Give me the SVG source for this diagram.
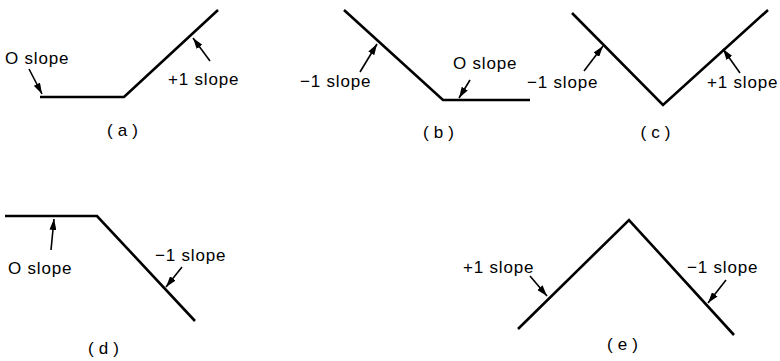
<svg xmlns="http://www.w3.org/2000/svg" width="780" height="361" viewBox="0 0 780 361">
<defs>
<marker id="ah" viewBox="0 0 11 7" refX="11" refY="3.5" markerWidth="11" markerHeight="7" markerUnits="userSpaceOnUse" orient="auto">
<path d="M0,0 L11,3.5 L0,7 Z" fill="#000"/>
</marker>
</defs>
<style>
.curve{fill:none;stroke:#000;stroke-width:2.6;stroke-linejoin:miter}
.arr{fill:none;stroke:#000;stroke-width:1.6;marker-end:url(#ah)}
text{font-family:"Liberation Sans",Arial,sans-serif;font-size:17px;letter-spacing:0.8px;fill:#000}
.cap{letter-spacing:5px;text-anchor:middle;font-size:17px}
</style>
<rect width="780" height="361" fill="#fff"/>
<g id="a">
<polyline class="curve" points="40,97 124,97 218,10"/>
<text x="5" y="64">O slope</text>
<text x="168" y="85">+1 slope</text>
<text class="cap" x="125" y="136">(a)</text>
</g>
<g id="b">
<polyline class="curve" points="344,10 443,100 530,100"/>
<text x="300" y="87">−1 slope</text>
<text x="453" y="69">O slope</text>
<text class="cap" x="441" y="138">(b)</text>
</g>
<g id="c">
<polyline class="curve" points="572,13 663,105 768,10"/>
<text x="527" y="88">−1 slope</text>
<text x="707" y="88">+1 slope</text>
<text class="cap" x="658" y="138">(c)</text>
</g>
<g id="d">
<polyline class="curve" points="5,216 97,216 195,321"/>
<text x="8" y="274">O slope</text>
<text x="155" y="261">−1 slope</text>
<text class="cap" x="106" y="354">(d)</text>
</g>
<g id="e">
<polyline class="curve" points="518,329 629,220 734,335"/>
<text x="463" y="273">+1 slope</text>
<text x="687" y="273">−1 slope</text>
<text class="cap" x="625" y="350">(e)</text>
</g>
<g id="connectors">
<line class="arr" x1="29" y1="69" x2="42" y2="94"/>
<line class="arr" x1="210" y1="61" x2="193" y2="38"/>
<line class="arr" x1="360" y1="72" x2="377" y2="44"/>
<line class="arr" x1="470" y1="80" x2="459" y2="98"/>
<line class="arr" x1="584" y1="71" x2="603" y2="46"/>
<line class="arr" x1="740" y1="73" x2="723" y2="49"/>
<line class="arr" x1="51" y1="250" x2="54" y2="219"/>
<line class="arr" x1="182" y1="267" x2="166" y2="287"/>
<line class="arr" x1="530" y1="276" x2="547" y2="296"/>
<line class="arr" x1="726" y1="280" x2="708" y2="303"/>
</g>
</svg>
